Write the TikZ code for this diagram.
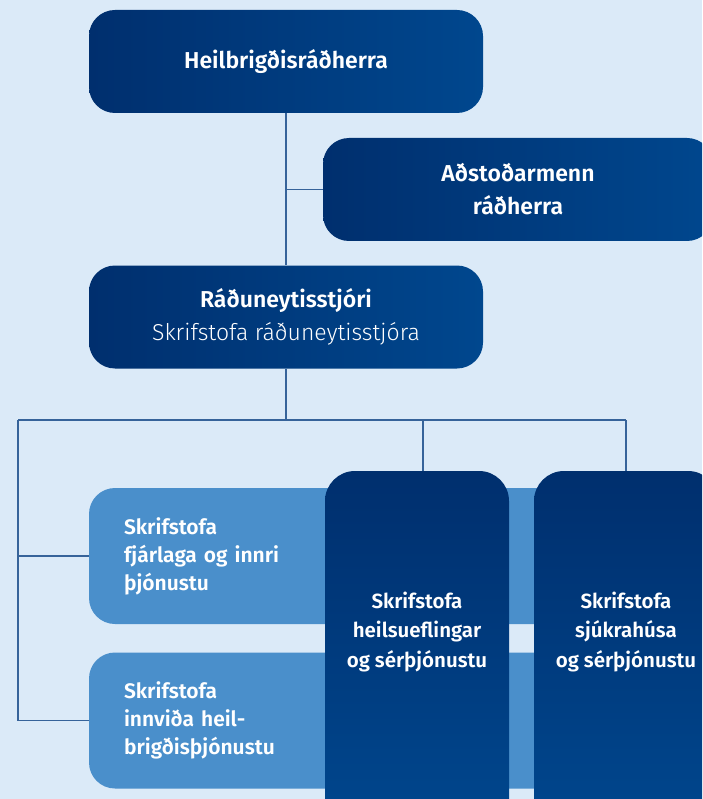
\documentclass[tikz,border=0pt]{standalone}
\usepackage{fontspec}
\setmainfont{Fira Sans}[BoldFont={Fira Sans SemiBold}]
\newfontfamily\lightfont{Fira Sans Light}
\usetikzlibrary{positioning}
\definecolor{bgblue}{HTML}{DBEAF8}
\definecolor{navyL}{HTML}{002F6E}
\definecolor{navyR}{HTML}{00478E}
\definecolor{midblue}{HTML}{4A8FCB}
\definecolor{linecol}{HTML}{36639A}

\begin{document}
\begin{tikzpicture}[x=1pt,y=-1pt,
                       top box/.style={rectangle,rounded corners=26pt,left color=navyL,right color=navyR,
                                       text=white,align=center,minimum width=394pt,minimum height=103pt,
                                       font=\fontsize{23}{33}\selectfont\bfseries},
                       side box/.style={rectangle,rounded corners=26pt,fill=midblue,text=white,align=left,
                                        text width=441pt,inner xsep=35pt,minimum height=136pt,
                                        font=\fontsize{21}{28}\selectfont\bfseries},
                       tall box/.style={rectangle,rounded corners=30pt,top color=navyL,bottom color=navyR,
                                        minimum width=184pt,minimum height=360pt},
                       tall text/.style={text=white,align=center,font=\fontsize{20.5}{29.5}\selectfont\bfseries},
                       conn/.style={draw=linecol,line width=1.2pt}
                      ]
   \useasboundingbox (0,0) rectangle (702,799);
   \clip (0,0) rectangle (702,799);
   \fill[bgblue] (0,0) rectangle (702,799);

   \node[top box] (hr)  at (286,61.5) {Heilbrigðisráðherra};
   \node[top box,minimum width=390pt] (ad) at (518,189.5) {Aðstoðarmenn\\ráðherra};
   \node[top box] (rad) at (286,317) {Ráðuneytisstjóri\\{\lightfont\mdseries Skrifstofa ráðuneytisstjóra}};

   \node[side box] (fja) at (344.5,556) {Skrifstofa\\fjárlaga og innri\\þjónustu};
   \node[side box] (inn) at (344.5,720.5) {Skrifstofa\\innviða heil-\\brigðisþjónustu};

   \node[tall box] (hs) at (417,651) {};
   \node[tall box] (sj) at (626,651) {};
   \node[tall text] (hstxt) at (417,632) {Skrifstofa\\heilsueflingar\\og sérþjónustu};
   \node[tall text] (sjtxt) at (626,632) {Skrifstofa\\sjúkrahúsa\\og sérþjónustu};

   \coordinate (busL) at (18,420);
   \coordinate (busR) at (626,420);
   \coordinate (busM) at (423,420);

   \path[conn]%
    (hr.south) edge (rad.north)
    (hr.south |- ad.west) edge (ad.west)
    (rad.south) edge (rad.south |- busL)
    (busL) edge (busR)
    (busL) edge (busL |- inn.west)
    (busL |- fja.west) edge (fja.west)
    (busL |- inn.west) edge (inn.west)
    (busM) edge (busM |- hs.north)
    (busR) edge (sj.north);
  \end{tikzpicture}
\end{document}
